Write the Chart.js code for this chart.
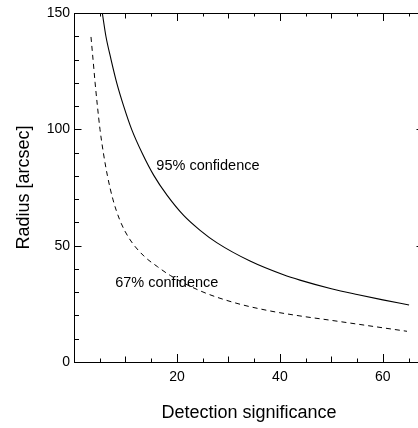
<!DOCTYPE html>
<html lang="en">
<head>
  <meta charset="UTF-8"/>
  <title>Detection significance vs radius</title>
  <script src="https://cdn.jsdelivr.net/npm/chart.js"></script>
  <style>
    body {
      margin: 0;
      background: #fff;
      overflow: hidden;
    }

    .wrap {
      width: 418px;
      height: 428px;
      overflow: hidden;
    }
  </style>
</head>
<body>
  <div class="wrap">
    <canvas id="radiusChart" width="430" height="428"></canvas>
  </div>

  <script>
    // 95% confidence curve (solid)
    const sig95 = [5.5, 6.2, 7.2, 8.3, 9.65, 11.2, 13.3, 15.5, 18.1, 21.3, 24.5, 27.8, 34.2, 40.7, 43.9, 50, 55, 60, 65.1];
    const rad95 = [150, 140, 130, 120, 110, 100, 89.5, 80.2, 71.6, 63, 56.6, 51.2, 43.4, 37.5, 35.2, 31.5, 29, 26.7, 24.5];

    // 67% confidence curve (dashed)
    const sig67 = [3.3, 3.7, 4.1, 4.55, 5.05, 5.7, 6.5, 7.55, 8.9, 10.7, 13.6, 16.2, 18.7, 24.5, 31, 37.5, 43.9, 50, 55, 60, 64.7];
    const rad67 = [139.7, 130, 120, 110, 100, 90, 80, 70, 61, 53.2, 45.5, 41, 37.2, 30.6, 25.6, 22.2, 19.8, 17.9, 16.3, 14.7, 13.2];

    const xTicks = [20, 40, 60];
    const yTicks = [0, 50, 100, 150];

    const labels = [
      { text: "95% confidence", x: 16.0, y: 84.2 },
      { text: "67% confidence", x: 8.0, y: 33.8 }
    ];

    const font = "'Liberation Sans', Arial, sans-serif";

    const toPoints = (xs, ys) => xs.map((x, i) => ({ x: x, y: ys[i] }));

    // inward ticks on all four sides, plus top/right frame
    const frameTicks = {
      id: 'frameTicks',
      afterDraw(chart) {
        const { ctx, chartArea: a, scales: { x, y } } = chart;
        ctx.save();
        ctx.strokeStyle = '#000';
        ctx.lineWidth = 1;
        ctx.beginPath();
        ctx.moveTo(a.left, a.top + 0.5);
        ctx.lineTo(a.right, a.top + 0.5);
        ctx.moveTo(a.right - 0.5, a.top);
        ctx.lineTo(a.right - 0.5, a.bottom);

        for (let v = 5; v < x.max; v += 5) {
          const px = Math.round(x.getPixelForValue(v)) + 0.5;
          const len = v % 20 === 0 ? 8 : (v % 10 === 0 ? 5.5 : 3.5);
          ctx.moveTo(px, a.bottom);
          ctx.lineTo(px, a.bottom - len);
          ctx.moveTo(px, a.top);
          ctx.lineTo(px, a.top + len);
        }
        for (let v = 10; v < y.max; v += 10) {
          const py = Math.round(y.getPixelForValue(v)) + 0.5;
          const len = v % 50 === 0 ? 7.5 : 5;
          ctx.moveTo(a.left, py);
          ctx.lineTo(a.left + len, py);
          ctx.moveTo(a.right, py);
          ctx.lineTo(a.right - len, py);
        }
        ctx.stroke();

        ctx.fillStyle = '#000';
        ctx.font = '14.5px ' + font;
        ctx.textAlign = 'left';
        ctx.textBaseline = 'middle';
        labels.forEach(l => {
          ctx.fillText(l.text, x.getPixelForValue(l.x), y.getPixelForValue(l.y));
        });
        ctx.restore();
      }
    };

    new Chart(document.getElementById('radiusChart'), {
      type: 'line',
      data: {
        datasets: [
          {
            label: '95% confidence',
            data: toPoints(sig95, rad95),
            borderColor: '#000',
            borderWidth: 1.1,
            pointRadius: 0,
            cubicInterpolationMode: 'monotone'
          },
          {
            label: '67% confidence',
            data: toPoints(sig67, rad67),
            borderColor: '#000',
            borderWidth: 1,
            borderDash: [5, 4],
            pointRadius: 0,
            cubicInterpolationMode: 'monotone'
          }
        ]
      },
      options: {
        responsive: false,
        animation: false,
        layout: { padding: { top: 13, right: 6, left: 0, bottom: 0 } },
        plugins: {
          legend: { display: false },
          tooltip: { enabled: false }
        },
        scales: {
          x: {
            type: 'linear',
            min: 0,
            max: 68,
            afterFit: s => { s.height = 66; },
            afterBuildTicks: s => { s.ticks = xTicks.map(v => ({ value: v })); },
            grid: { display: true, drawOnChartArea: false, drawTicks: false },
            border: { display: true, color: '#000', width: 1 },
            ticks: {
              padding: 7,
              color: '#000',
              maxRotation: 0,
              font: { family: font, size: 14 }
            },
            title: {
              display: true,
              text: 'Detection significance',
              color: '#000',
              font: { family: font, size: 18 },
              padding: { top: 4, bottom: 4 }
            }
          },
          y: {
            type: 'linear',
            min: 0,
            max: 150,
            afterFit: s => { s.width = 74; },
            afterBuildTicks: s => { s.ticks = yTicks.map(v => ({ value: v })); },
            grid: { display: true, drawOnChartArea: false, drawTicks: false },
            border: { display: true, color: '#000', width: 1 },
            ticks: {
              padding: 4,
              color: '#000',
              font: { family: font, size: 14 }
            },
            title: {
              display: true,
              text: 'Radius [arcsec]',
              color: '#000',
              font: { family: font, size: 18 },
              padding: { top: 13, bottom: 13 }
            }
          }
        }
      },
      plugins: [frameTicks]
    });
  </script>
</body>
</html>
